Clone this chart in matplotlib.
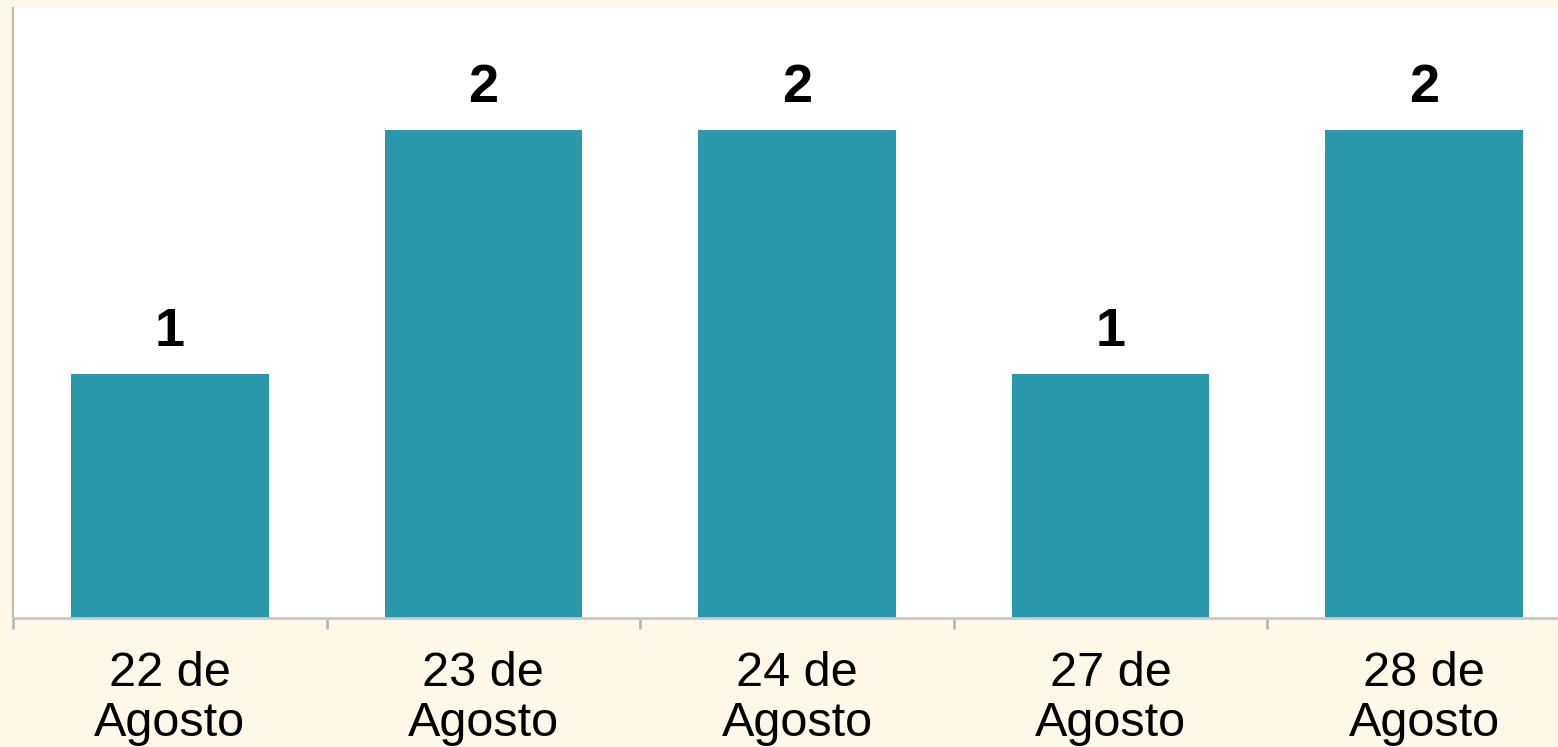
import numpy as np
import matplotlib.pyplot as plt

DAYS=['22 de\nAgosto','23 de\nAgosto','24 de\nAgosto','27 de\nAgosto','28 de\nAgosto']
COUNTS=[1,2,2,1,2]

BG='#fef8e9'
BAR_COLOR='#2a98ab'
FONT=['Liberation Sans','DejaVu Sans']

plt.rcParams['font.family']=FONT

fig=plt.figure(figsize=(15.58,7.47),dpi=100)
fig.patch.set_facecolor(BG)
ax=fig.add_axes([13/1558,129/747,1568/1558,610/747])
ax.set_facecolor('white')

x=np.arange(len(DAYS))
bars=ax.bar(x,COUNTS,width=0.63,color=BAR_COLOR)
for xi,v in zip(x,COUNTS):
    ax.annotate(str(v),(xi,v),xytext=(0,12),textcoords='offset points',
        ha='center',va='bottom',fontsize=39,fontweight='bold')

ax.set_xlim(-0.5,len(DAYS)-0.5)
ax.set_ylim(0,2.5)
ax.set_yticks([])
ax.set_xticks(x)
ax.set_xticklabels(DAYS,fontsize=35,linespacing=1.14)
ax.tick_params(axis='x',which='major',length=0,pad=24)
ax.set_xticks(np.arange(len(DAYS)+1)-0.5,minor=True)
ax.tick_params(axis='x',which='minor',length=8,color='#b8b8b8',width=2)

for s in ['top','right']:
    ax.spines[s].set_visible(False)
ax.spines['left'].set_color('#c0b8a8')
ax.spines['left'].set_linewidth(1.5)
ax.spines['bottom'].set_color('#c8c8c8')
ax.spines['bottom'].set_linewidth(2)

fig.savefig('out.png',dpi=100,facecolor=BG)
